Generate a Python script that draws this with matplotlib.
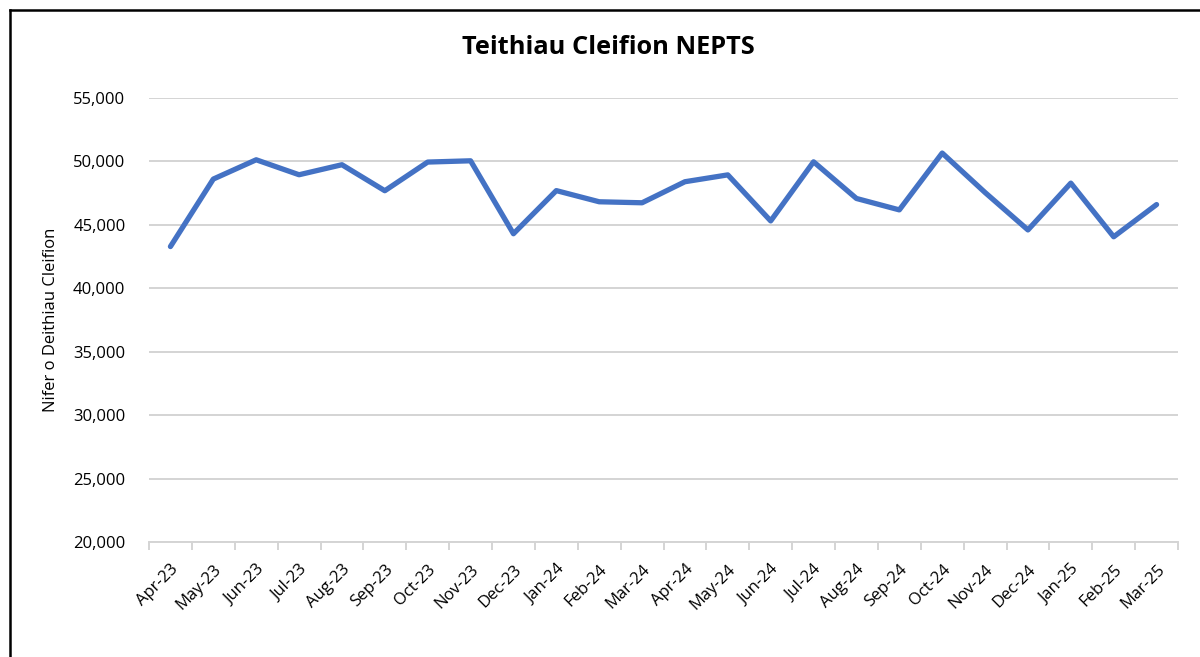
import numpy as np
import matplotlib.pyplot as plt
from matplotlib.lines import Line2D
from matplotlib.ticker import FuncFormatter

plt.rcParams['font.family'] = ['Open Sans', 'DejaVu Sans']

months = ['Apr-23', 'May-23', 'Jun-23', 'Jul-23', 'Aug-23', 'Sep-23', 'Oct-23', 'Nov-23',
          'Dec-23', 'Jan-24', 'Feb-24', 'Mar-24', 'Apr-24', 'May-24', 'Jun-24', 'Jul-24',
          'Aug-24', 'Sep-24', 'Oct-24', 'Nov-24', 'Dec-24', 'Jan-25', 'Feb-25', 'Mar-25']
journeys = [43290, 48610, 50130, 48950, 49740, 47690, 49950, 50050,
            44300, 47700, 46820, 46740, 48400, 48940, 45310, 49970,
            47080, 46180, 50660, 47550, 44600, 48290, 44060, 46600]
y_ticks = [20000, 25000, 30000, 35000, 40000, 45000, 50000, 55000]

fig = plt.figure(figsize=(12, 6.57), dpi=100)
ax = fig.add_axes([149/1200, 1 - 542/657, (1178-149)/1200, (542-98)/657])

x = np.arange(len(months))
ax.plot(x, journeys, color='#4472C4', linewidth=3.8, solid_joinstyle='round', solid_capstyle='round', zorder=3)

ax.set_xlim(-0.5, len(months) - 0.5)
ax.set_ylim(20000, 55000)
ax.set_yticks(y_ticks)
ax.yaxis.set_major_formatter(FuncFormatter(lambda v, p: '{:,.0f}'.format(v)))
ax.grid(axis='y', color='#D4D4D4', linewidth=1.4)
ax.set_axisbelow(True)

ax.set_xticks(x)
ax.set_xticklabels(months, rotation=45, ha='right', va='top', rotation_mode='anchor')
ax.set_xticks(np.arange(-0.5, len(months)), minor=True)
ax.tick_params(axis='x', which='major', length=0, pad=14, labelsize=12, colors='#000000')
ax.tick_params(axis='x', which='minor', length=6, color='#D4D4D4', width=1.4)
ax.tick_params(axis='y', length=0, pad=17, labelsize=12)

for s in ['top', 'right', 'left']:
    ax.spines[s].set_visible(False)
ax.spines['bottom'].set_color('#D4D4D4')
ax.spines['bottom'].set_linewidth(1.4)

ax.set_ylabel('Nifer o Deithiau Cleifion', fontsize=12, labelpad=10)
fig.text(0.507, 1 - 48/657, 'Teithiau Cleifion NEPTS', ha='center', va='center',
         fontsize=18.3, fontweight='bold')

# chart border (cropped at right and bottom)
fig.add_artist(Line2D([10/1200, 10/1200], [0, 1 - 10/657], color='black', linewidth=1.8))
fig.add_artist(Line2D([10/1200, 1], [1 - 10/657, 1 - 10/657], color='black', linewidth=1.8))

fig.savefig('out.png', dpi=100)
